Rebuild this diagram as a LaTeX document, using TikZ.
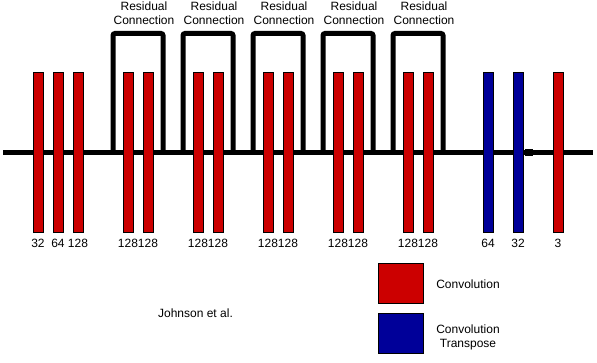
\documentclass[tikz,border=0pt]{standalone}
\usepackage{fontspec}
\setmainfont{Liberation Sans}
\usepackage{tikz}
\usetikzlibrary{positioning}
\usepackage{xcolor}
\definecolor{convred}{RGB}{204,0,0}
\definecolor{transblue}{RGB}{0,0,153}

\begin{document}
\begin{tikzpicture}[x=1pt, y=-1pt,
    every node/.style={font=\fontsize{12}{14}\selectfont, inner sep=0pt},
    layerbar/.style={draw=black, line width=1pt, minimum width=10pt, minimum height=160pt},
    resline/.style={line width=5pt, rounded corners=2pt},
    keybox/.style={draw=black, line width=1pt, minimum width=45pt, minimum height=40pt}]
    \useasboundingbox (0,0) rectangle (597,363);
    % Main path
    \coordinate (start) at (3,152.5);
    \coordinate (end) at (593,152.5);
    \draw[line width=5pt] (start) -- (end);
    % Residual loops
    \foreach \l in {0,...,4} {
      \coordinate (ra\l) at (113+70*\l,152);
      \coordinate (rb\l) at (163+70*\l,152);
      \draw[resline] (ra\l) -- ++(0,-118.5) -| (rb\l);
      \node[align=center] (rl\l) at (144+70*\l,13) {Residual\\Connection};
    }
    \node[fill=black, minimum width=8pt, minimum height=7pt] (mark) at (529,152.5) {};
    % Layers
    \foreach \x/\n/\c [count=\i] in {38/32/convred, 58/64/convred, 78/128/convred,
        128/128/convred, 148/128/convred, 198/128/convred, 218/128/convred,
        268/128/convred, 288/128/convred, 338/128/convred, 358/128/convred,
        408/128/convred, 428/128/convred, 488/64/transblue, 518/32/transblue,
        558/3/convred} {
      \node[layerbar, fill=\c] (b\i) at (\x,153) {};
      \node (n\i) at (\x,243) {\n};
    }
    % Legend
    \node[keybox, fill=convred] (kred) at (400.8,283.3) {};
    \node[keybox, fill=transblue] (kblue) at (400.8,333.3) {};
    \node (tred) at (468,284) {Convolution};
    \node[align=center] (tblue) at (468,337) {Convolution\\Transpose};
    \node (cite) at (195.5,313) {Johnson et al.};
\end{tikzpicture}
\end{document}
